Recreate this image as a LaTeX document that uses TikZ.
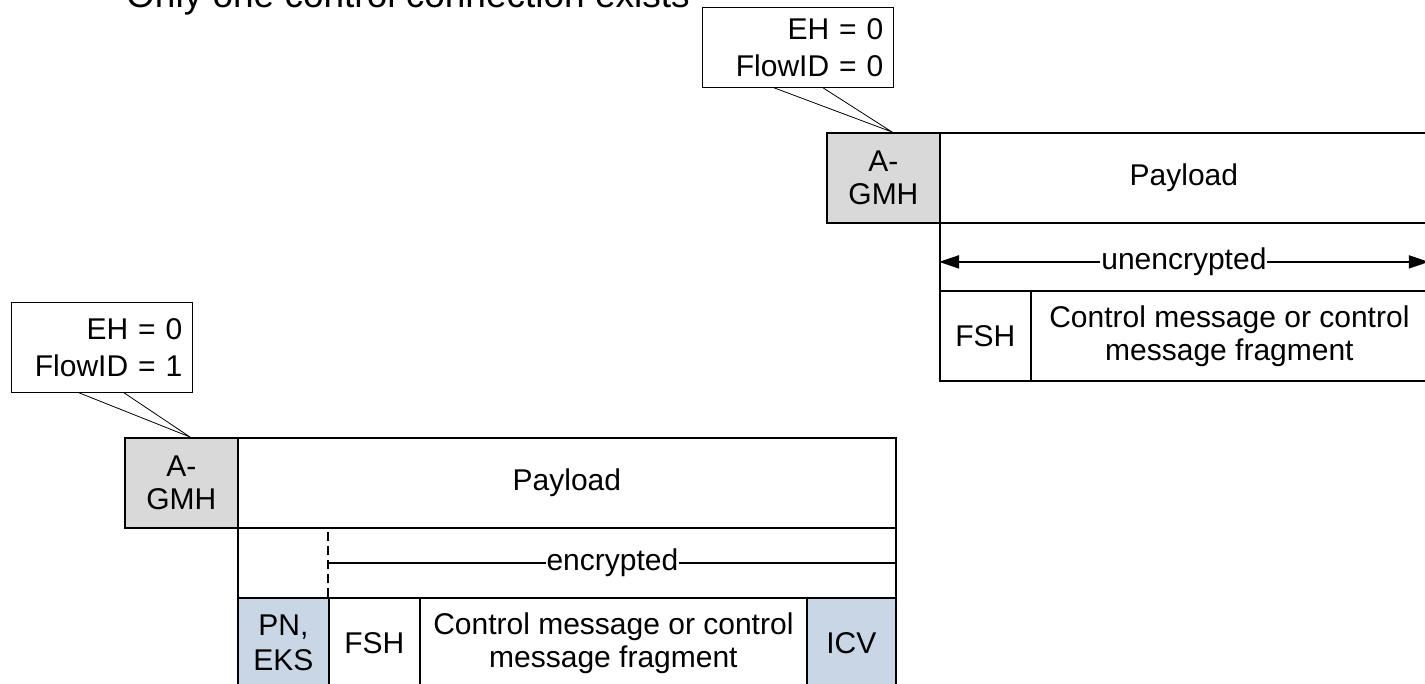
\documentclass[tikz,border=0pt]{standalone}
\usepackage{fontspec}
\setmainfont{Liberation Sans}
\usetikzlibrary{arrows.meta}
\definecolor{hdrgrey}{HTML}{D9D9D9}
\definecolor{secblue}{HTML}{C9D6E5}
\newcommand\fieldfont{\fontsize{30}{33}\selectfont}
\newcommand\notefont{\fontsize{30}{37}\selectfont}
\newcommand\titlefont{\fontsize{37}{44}\selectfont}
\begin{document}
\begin{tikzpicture}[x=1pt,y=-1pt,
  field/.style={draw, line width=1.8pt, inner sep=0pt, anchor=north west,
                align=center, font=\fieldfont},
  hdr/.style={field, fill=hdrgrey},
  sec/.style={field, fill=secblue},
  note/.style={draw, line width=0.8pt, anchor=north west, align=right,
               inner xsep=10pt, inner ysep=0pt, font=\notefont},
  noteline/.style={line width=0.8pt},
  span/.style={line width=1.8pt},
  spanlabel/.style={fill=white, inner xsep=1pt, inner ysep=2pt, font=\fieldfont},
  dashsep/.style={line width=1.8pt, dash pattern=on 9pt off 5pt}]

\useasboundingbox (0,0) rectangle (1425,684);
\clip (0,0) rectangle (1425,684);
\fill[white] (0,0) rectangle (1425,684);

% title line
\node[anchor=base west, inner sep=0pt, font=\titlefont] (title) at (126,8)
  {Only one control connection exists};

% ---- control connection without encryption ----
\node[hdr, minimum width=113, minimum height=90] (gmh1) at (826,132) {A-\\GMH};
\node[field, minimum width=488, minimum height=90] (pay1) at (939,132) {Payload};
\node[field, minimum width=488, minimum height=68] (unenc) at (939,222) {};
\node[field, minimum width=91, minimum height=90] (fsh1) at (939,290) {FSH};
\node[field, minimum width=397, minimum height=90] (cm1) at (1030,290)
  {Control message or control\\message fragment};
\draw[span, {Triangle[length=20pt,width=13pt]}-{Triangle[length=20pt,width=13pt]}]
  ([yshift=-5pt]unenc.west) -- ([yshift=-5pt]unenc.east)
  node[spanlabel, pos=0.5] (unenclabel) {unencrypted};

% header note
\node[note, text width=171pt, minimum height=80] (note1) at (702,7)
  {EH = 0\\FlowID = 0};
\coordinate (tip1) at ([xshift=66pt]gmh1.north west);
\draw[noteline] ([xshift=72pt]note1.south west) -- (tip1)
  -- ([xshift=121pt]note1.south west);

% ---- control connection with encryption ----
\node[hdr, minimum width=113, minimum height=90] (gmh2) at (124,437) {A-\\GMH};
\node[field, minimum width=658, minimum height=90] (pay2) at (237,437) {Payload};
\node[field, minimum width=658, minimum height=70] (enc) at (237,527) {};
\node[sec, minimum width=91, minimum height=90, font=\fontsize{30}{35}\selectfont]
  (pn) at (237,597) {PN,\\EKS};
\node[field, minimum width=91, minimum height=90] (fsh2) at (328,597) {FSH};
\node[field, minimum width=387, minimum height=90] (cm2) at (419,597)
  {Control message or control\\message fragment};
\node[sec, minimum width=89, minimum height=90] (icv) at (806,597) {ICV};
\draw[dashsep] (fsh2.north west) -- (fsh2.north west |- enc.north);
\draw[span] (fsh2.north west |- enc.center) -- (enc.east)
  node[spanlabel, pos=0.5] (enclabel) {encrypted};

% header note
\node[note, text width=161pt, minimum height=90] (note2) at (11,302)
  {EH = 0\\FlowID = 1};
\coordinate (tip2) at ([xshift=66pt]gmh2.north west);
\draw[noteline] ([xshift=68pt]note2.south west) -- (tip2)
  -- ([xshift=113pt]note2.south west);
\end{tikzpicture}
\end{document}
